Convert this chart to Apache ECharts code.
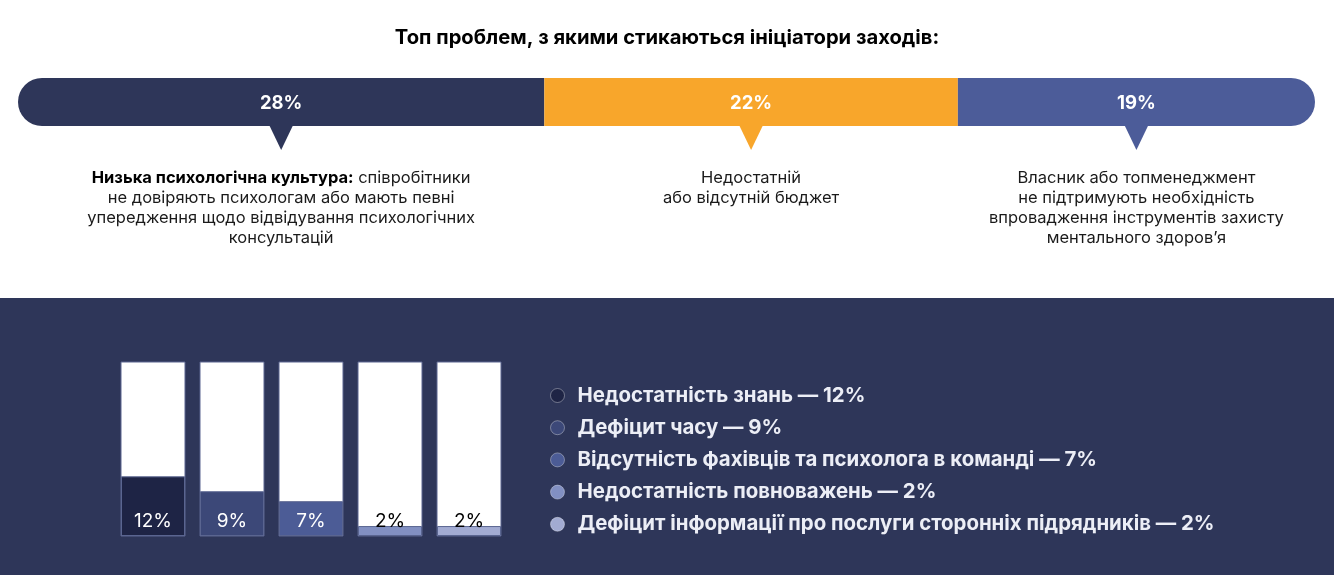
<!DOCTYPE html>
<html>
<head>
<meta charset="utf-8">
<script src="https://cdn.jsdelivr.net/npm/echarts@6/dist/echarts.min.js"></script>
<style>
html,body{margin:0;padding:0;background:#fff;}
#c{width:1334px;height:575px;}
</style>
</head>
<body>
<div id="c"></div>
<script>
const titleText = 'Топ проблем, з якими стикаються ініціатори заходів:';

const topValues = [28, 22, 19];
const topLeads = ['Низька психологічна культура:', '', ''];
const topDescriptions = [
  ' співробітники\nне довіряють психологам або мають певні\nупередження щодо відвідування психологічних\nконсультацій',
  'Недостатній\nабо відсутній бюджет',
  'Власник або топменеджмент\nне підтримують необхідність\nвпровадження інструментів захисту\nментального здоров’я'
];

const bottomCategories = [
  'Недостатність знань',
  'Дефіцит часу',
  'Відсутність фахівців та психолога в команді',
  'Недостатність повноважень',
  'Дефіцит інформації про послуги сторонніх підрядників'
];
const bottomValues = [12, 9, 7, 2, 2];

const FONT = 'Inter, "Noto Sans", sans-serif';
const topColors = ['#2e3659', '#f8a62b', '#4c5c99'];
const bottomColors = ['#1e2445', '#3c4878', '#4c5c96', '#8290c2', '#a2abd2'];
const bottomLabelColors = ['#ffffff', '#ffffff', '#ffffff', '#000000', '#000000'];

// cumulative segments for the top stacked bar
let acc = 0;
const topData = topValues.map((v) => { const s = acc; acc += v; return [s, acc, v, 0.5]; });
const topTotal = acc;

const chart = echarts.init(document.getElementById('c'), null, {renderer: 'canvas'});

const bottomSeries = bottomValues.map((v, i) => ({
  type: 'bar',
  name: bottomCategories[i] + ' — ' + v + '%',
  xAxisIndex: 1,
  yAxisIndex: 1,
  barWidth: 64,
  barGap: '-100%',
  data: bottomValues.map((vv, j) => (j === i ? vv : '-')),
  showBackground: i === 0,
  backgroundStyle: {color: '#ffffff', borderColor: '#5a6590', borderWidth: 1},
  itemStyle: {color: bottomColors[i], borderColor: '#5a6590', borderWidth: 1},
  label: {
    show: true,
    position: 'insideBottom',
    distance: 5,
    formatter: '{c}%',
    color: bottomLabelColors[i],
    fontFamily: FONT,
    fontSize: 19,
    fontWeight: 'normal'
  },
  emphasis: {disabled: true},
  z: 3
}));

chart.setOption({
  animation: false,
  title: {
    text: titleText,
    left: 'center',
    top: 23,
    textStyle: {fontFamily: FONT, fontSize: 20.2, fontWeight: 'bold', color: '#000'}
  },
  graphic: [{
    type: 'rect',
    z: -10,
    shape: {x: 0, y: 298, width: 1334, height: 277},
    style: {fill: '#2e3659'}
  }],
  legend: {
    orient: 'vertical',
    left: 550,
    top: 384.5,
    padding: 0,
    itemWidth: 14,
    itemHeight: 14,
    itemGap: 10.2,
    icon: 'circle',
    selectedMode: false,
    itemStyle: {borderColor: 'rgba(255,255,255,0.35)', borderWidth: 1},
    textStyle: {
      fontFamily: FONT, fontSize: 20.4, fontWeight: 'bold', color: '#eceef6',
      lineHeight: 22, padding: [0, 0, 0, 8]
    },
    data: bottomSeries.map(s => s.name)
  },
  grid: [
    {left: 18, right: 19, top: 78, height: 48},
    {left: 113.5, width: 395, top: 362, height: 174}
  ],
  xAxis: [
    {type: 'value', gridIndex: 0, min: 0, max: topTotal, show: false},
    {type: 'category', gridIndex: 1, data: bottomCategories, show: false}
  ],
  yAxis: [
    {type: 'value', gridIndex: 0, min: 0, max: 1, show: false},
    {type: 'value', gridIndex: 1, min: 0, max: 35, show: false}
  ],
  series: [{
    type: 'custom',
    xAxisIndex: 0,
    yAxisIndex: 0,
    clip: false,
    encode: {x: [0, 1], y: 3},
    data: topData,
    renderItem: function (params, api) {
      const idx = params.dataIndex;
      const s = api.coord([api.value(0), api.value(3)]);
      const e = api.coord([api.value(1), api.value(3)]);
      const h = api.size([0, 1])[1];
      const cy = s[1];
      const cx = (s[0] + e[0]) / 2;
      const last = topData.length - 1;
      const r = idx === 0 ? [24, 0, 0, 24] : (idx === last ? [0, 24, 24, 0] : 0);
      const color = topColors[idx];
      const lead = topLeads[idx];
      const descText = (lead ? '{b|' + lead + '}' : '') + topDescriptions[idx];
      return {
        type: 'group',
        children: [
          {type: 'rect', shape: {x: s[0], y: cy - h / 2, width: e[0] - s[0], height: h, r: r}, style: {fill: color}},
          {type: 'polygon', shape: {points: [[cx - 12, cy + h / 2 - 1], [cx + 12, cy + h / 2 - 1], [cx, cy + h / 2 + 24]]}, style: {fill: color}},
          {type: 'text', x: cx, y: cy + 1, style: {
            text: api.value(2) + '%', fill: '#ffffff', fontFamily: FONT, fontSize: 18.5, fontWeight: 'bold',
            align: 'center', verticalAlign: 'middle'
          }},
          {type: 'text', x: cx, y: cy + h / 2 + 42, style: {
            text: descText, fill: '#1a1a1a', fontFamily: FONT, fontSize: 16.5, lineHeight: 20,
            align: 'center', verticalAlign: 'top',
            rich: {b: {fontFamily: FONT, fontSize: 16.5, fontWeight: 'bold', lineHeight: 20, fill: '#000'}}
          }}
        ]
      };
    }
  }].concat(bottomSeries)
});
</script>
</body>
</html>
